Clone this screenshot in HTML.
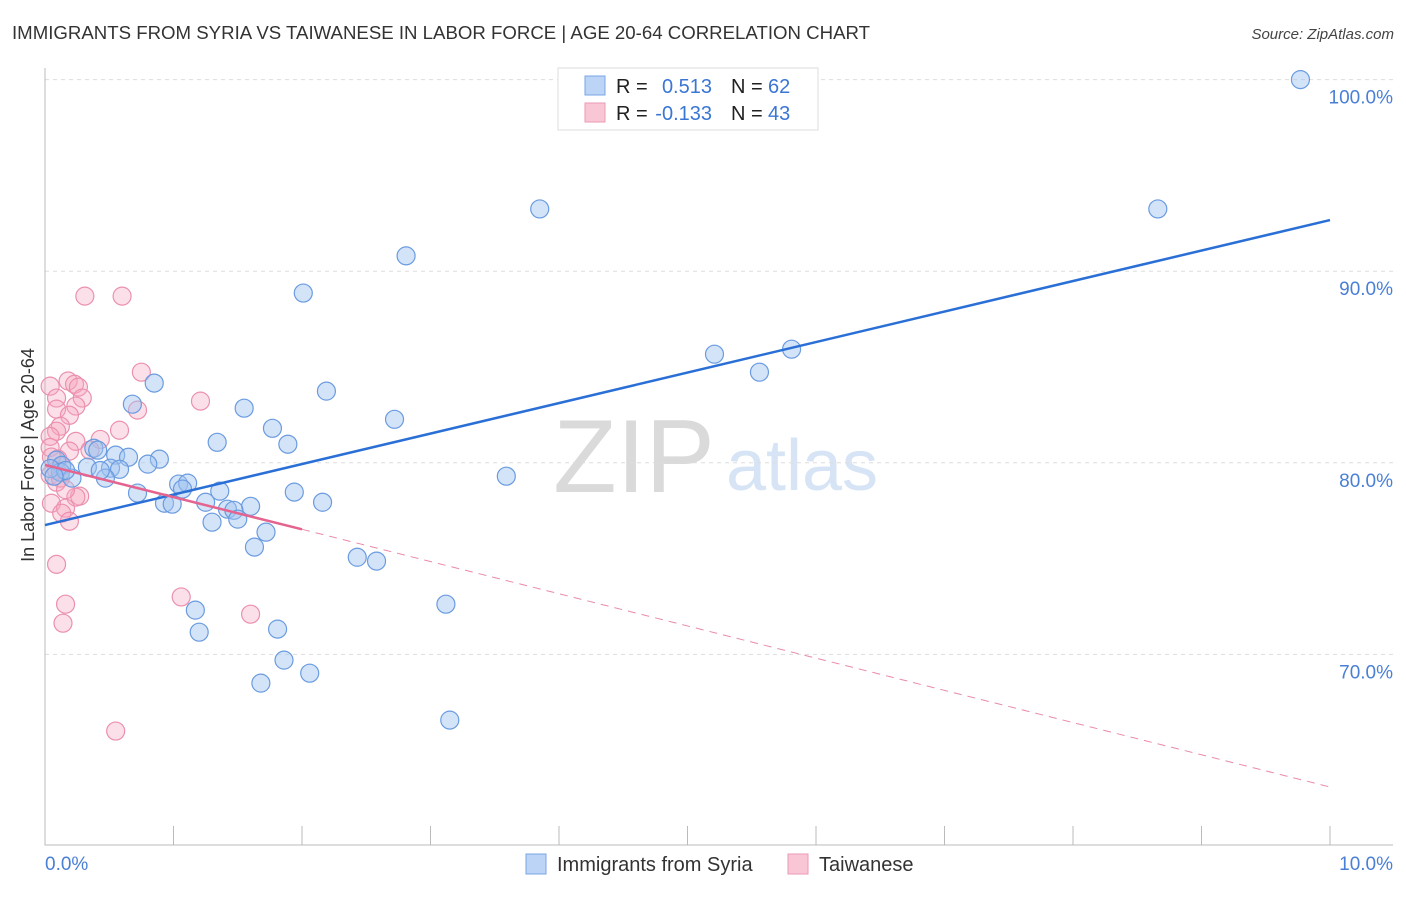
<!DOCTYPE html>
<html><head><meta charset="utf-8"><style>
body{margin:0;background:#fff;font-family:"Liberation Sans",sans-serif}
svg text{font-family:"Liberation Sans",sans-serif}
</style></head><body>
<svg width="1406" height="892" xmlns="http://www.w3.org/2000/svg">
<text x="12" y="39" font-size="18" fill="#333" textLength="858" lengthAdjust="spacingAndGlyphs">IMMIGRANTS FROM SYRIA VS TAIWANESE IN LABOR FORCE | AGE 20-64 CORRELATION CHART</text>
<text x="1394" y="39" font-size="15" fill="#444" text-anchor="end" font-style="italic">Source: ZipAtlas.com</text>
<text x="634" y="492" font-size="104" fill="#dadada" font-family="Liberation Serif" text-anchor="middle">ZIP</text>
<text x="802" y="490" font-size="72" fill="#d6e4f5" text-anchor="middle">atlas</text>
<g id="grid"></g>
<g id="axes"></g>
<g id="pts"></g>
<g id="lines"></g>
<text x="34" y="455" font-size="18" fill="#333" text-anchor="middle" transform="rotate(-90 34 455)">In Labor Force | Age 20-64</text>
<text x="45" y="870" font-size="19" fill="#4a7fd6">0.0%</text>
<text x="1393" y="870" font-size="19" fill="#4a7fd6" text-anchor="end">10.0%</text>
<g>
<rect x="558" y="68" width="260" height="62" fill="#fff" stroke="#ddd"/>
<rect x="585" y="76" width="20" height="19" fill="#bcd4f5" stroke="#7aa6e6"/>
<rect x="585" y="103" width="20" height="19" fill="#f9c6d5" stroke="#ec9ab4"/>
<text x="616" y="93" font-size="20" fill="#222">R = </text><text x="712" y="93" font-size="20" fill="#3a76d4" text-anchor="end">0.513</text>
<text x="731" y="93" font-size="20" fill="#222">N = </text><text x="768" y="93" font-size="20" fill="#3a76d4">62</text>
<text x="616" y="120" font-size="20" fill="#222">R = </text><text x="712" y="120" font-size="20" fill="#3a76d4" text-anchor="end">-0.133</text>
<text x="731" y="120" font-size="20" fill="#222">N = </text><text x="768" y="120" font-size="20" fill="#3a76d4">43</text>
</g>
<g>
<rect x="526" y="854" width="20" height="20" fill="#bcd4f5" stroke="#7aa6e6"/>
<text x="557" y="871" font-size="20" fill="#333">Immigrants from Syria</text>
<rect x="788" y="854" width="20" height="20" fill="#f9c6d5" stroke="#ec9ab4"/>
<text x="819" y="871" font-size="20" fill="#333">Taiwanese</text>
</g>
</svg>
<script>
const yTicks=[70,80,90,100];
const yTickLabels=["70.0%","80.0%","90.0%","100.0%"];
const syriaX=[9.77,8.66,3.85,2.81,2.01,5.21,5.81,5.56,0.85,2.19,0.68,1.55,2.72,1.77,1.34,1.89,0.38,0.41,0.55,0.65,0.89,0.80,0.09,0.13,0.12,0.21,0.33,0.51,0.58,0.47,3.59,1.04,1.11,1.07,0.72,1.94,1.36,0.93,0.99,1.25,1.60,2.16,1.42,1.47,1.30,1.50,1.72,1.63,2.43,2.58,3.12,1.17,1.81,1.20,1.86,2.06,1.68,3.15,0.04,0.16,0.07,0.43];
const syriaY=[100.0,93.25,93.25,90.8,88.86,85.67,85.93,84.73,84.16,83.74,83.06,82.85,82.27,81.8,81.07,80.97,80.76,80.66,80.4,80.29,80.19,79.93,80.14,79.87,79.51,79.2,79.77,79.72,79.66,79.2,79.3,78.89,78.94,78.63,78.42,78.47,78.52,77.89,77.84,77.94,77.73,77.94,77.58,77.52,76.9,77.06,76.38,75.6,75.07,74.87,72.62,72.31,71.32,71.16,69.7,69.02,68.5,66.57,79.7,79.6,79.3,79.6];
const taiX=[0.31,0.6,0.75,1.21,0.72,0.18,0.23,0.26,0.04,0.29,0.09,0.24,0.09,0.19,0.58,0.12,0.09,0.04,0.24,0.43,0.04,0.35,0.19,0.1,0.13,0.04,0.09,0.27,0.24,0.05,0.16,0.13,0.19,0.09,0.16,0.14,1.06,1.6,0.55,0.09,0.12,0.05,0.16];
const taiY=[88.7,88.7,84.73,83.22,82.75,84.27,84.1,83.95,84.0,83.38,83.38,82.96,82.8,82.48,81.7,81.91,81.65,81.38,81.12,81.22,80.8,80.66,80.61,80.19,79.82,79.35,78.99,78.26,78.21,77.89,77.63,77.37,76.95,74.7,72.62,71.63,73.0,72.1,66.0,79.6,79.2,80.3,78.6];
const syriaTrend=[76.75,92.67];
const taiTrend=[79.89,63.08];
const taiSolidEnd=2.0;
const X=v=>45+v*128.5, Y=v=>79.6+(100-v)*19.16;
const NS="http://www.w3.org/2000/svg";
function mk(t,a,p){const e=document.createElementNS(NS,t);for(const k in a)e.setAttribute(k,a[k]);p.appendChild(e);return e;}
const grid=document.getElementById('grid'),axes=document.getElementById('axes'),pts=document.getElementById('pts'),lines=document.getElementById('lines');
yTicks.forEach((t,i)=>{
 const g=mk('line',{x1:45,x2:1393,y1:Y(t),y2:Y(t),stroke:'#ddd','stroke-dasharray':'4,4'},grid);
 
 
 const l=mk('text',{x:1393,y:Y(t)+24,'font-size':19,fill:'#4a7fd6','text-anchor':'end'},grid);
 l.textContent=yTickLabels[i];
 
 
});
const ax=mk('path',{d:'M45 68V845H1393',fill:'none',stroke:'#bbb'},axes);


for(let i=1;i<=10;i++){
 const tk=mk('line',{x1:X(i),x2:X(i),y1:826,y2:845,stroke:'#bbb'},axes);
 
 
}
taiX.forEach((x,i)=>{
 const c=mk('circle',{cx:X(x),cy:Y(taiY[i]),r:9,fill:'rgba(245,165,192,0.35)',stroke:'#eb90ae','stroke-width':1.2},pts);
 
 
});
syriaX.forEach((x,i)=>{
 const c=mk('circle',{cx:X(x),cy:Y(syriaY[i]),r:9,fill:'rgba(160,195,240,0.45)',stroke:'#6a9be0','stroke-width':1.2},pts);
 
 
});
const ty=x=>taiTrend[0]+(taiTrend[1]-taiTrend[0])*x/10;
const l1=mk('line',{x1:X(0),y1:Y(syriaTrend[0]),x2:X(10),y2:Y(syriaTrend[1]),stroke:'#2a6fd6','stroke-width':2.5},lines);


const l2=mk('line',{x1:X(0),y1:Y(ty(0)),x2:X(taiSolidEnd),y2:Y(ty(taiSolidEnd)),stroke:'#e4648f','stroke-width':2.5},lines);


const l3=mk('line',{x1:X(taiSolidEnd),y1:Y(ty(taiSolidEnd)),x2:X(10),y2:Y(ty(10)),stroke:'#e98aaa','stroke-width':1,'stroke-dasharray':'8,6'},lines);


</script>
</body></html>
